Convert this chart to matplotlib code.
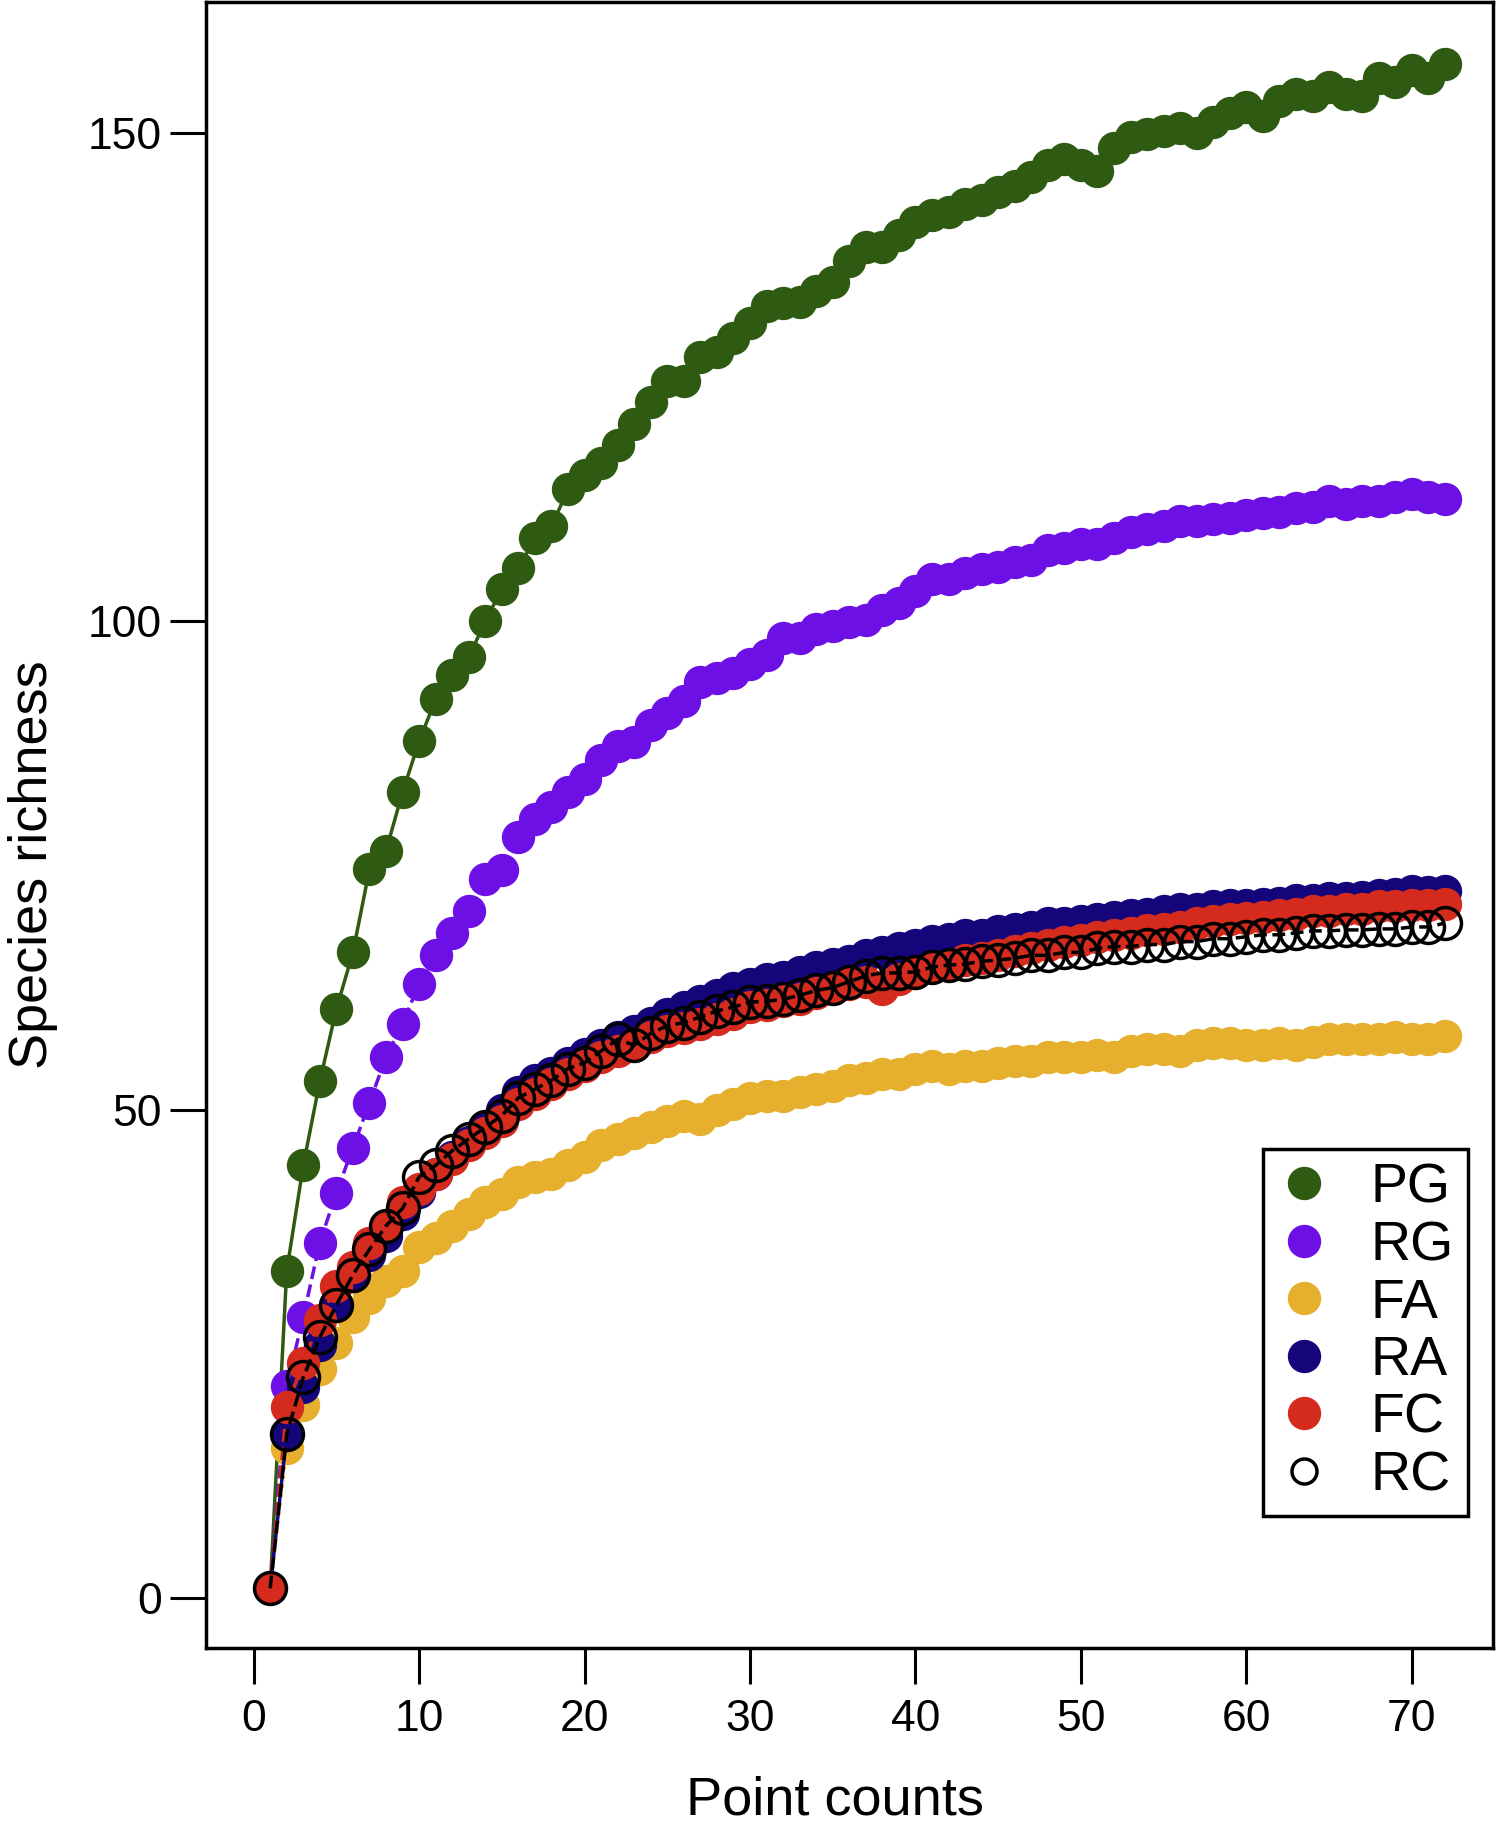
import matplotlib.pyplot as plt
import numpy as np

plt.rcParams['font.family'] = ['Liberation Sans', 'DejaVu Sans']

points = np.arange(1, 73)

pg = [1, 33.5, 44.3, 52.9, 60.3, 66.1, 74.6, 76.5, 82.5, 87.7, 92, 94.5, 96.3, 100,
      103.3, 105.4, 108.5, 109.7, 113.5, 115, 116.2, 118, 120.2, 122.4, 124.6, 124.6,
      127, 127.6, 129, 130.5, 132.3, 132.6, 132.7, 133.8, 134.7, 136.9, 138.3, 138.3,
      139.5, 140.9, 141.6, 141.9, 142.7, 143.1, 143.9, 144.5, 145.5, 146.7, 147.3,
      146.7, 146.1, 148.4, 149.6, 149.9, 150.2, 150.5, 150, 151.1, 152, 152.6, 151.7,
      153.2, 154, 153.8, 154.7, 154, 153.8, 155.6, 155.2, 156.4, 155.6, 157]
rg = [1, 21.7, 28.8, 36.4, 41.5, 46.1, 50.7, 55.4, 58.8, 62.9, 65.8, 68.1, 70.3, 73.6,
      74.5, 77.9, 79.8, 81, 82.5, 83.8, 85.8, 87.2, 87.6, 89.4, 90.6, 91.8, 93.8, 94.2,
      94.7, 95.6, 96.5, 98.3, 98.3, 99.2, 99.5, 99.9, 100.1, 101.1, 101.9, 103.1, 104.3,
      104.3, 104.9, 105.3, 105.5, 106.1, 106.3, 107.3, 107.5, 107.9, 107.9, 108.5, 109.1,
      109.4, 109.7, 110.3, 110.3, 110.5, 110.6, 110.9, 111.1, 111.2, 111.6, 111.7, 112.3,
      112, 112.3, 112.3, 112.7, 113, 112.7, 112.5]
fa = [1, 15.4, 19.8, 23.5, 26.1, 28.8, 30.7, 32.5, 33.5, 35.9, 36.9, 38.1, 39.3, 40.5,
      41.4, 42.6, 43.1, 43.4, 44.3, 45.2, 46.4, 47, 47.6, 48.2, 48.8, 49.4, 49, 50, 50.6,
      51.2, 51.4, 51.4, 51.8, 52.1, 52.4, 53, 53.2, 53.6, 53.6, 54.2, 54.5, 54.2, 54.5,
      54.5, 54.8, 55, 55, 55.4, 55.4, 55.4, 55.6, 55.4, 56, 56.2, 56.2, 56, 56.6, 56.8,
      56.8, 56.6, 56.6, 56.8, 56.6, 56.9, 57.2, 57.2, 57.2, 57.2, 57.4, 57.2, 57.2, 57.5]
ra = [1, 16.8, 21.6, 25.9, 30, 33, 35.1, 37.1, 39.3, 41.6, 43.4, 45.2, 46.7, 48.2, 50,
      51.8, 53, 53.8, 54.8, 55.7, 56.6, 57.4, 58.1, 58.9, 59.8, 60.5, 61.1, 61.7, 62.5,
      62.9, 63.4, 63.6, 64.1, 64.6, 64.9, 65.2, 65.8, 66.1, 66.5, 66.9, 67.3, 67.5, 67.9,
      67.9, 68.3, 68.5, 68.7, 69.1, 69.1, 69.3, 69.5, 69.7, 69.9, 70, 70.3, 70.5, 70.5,
      70.8, 70.9, 70.9, 71.1, 71.2, 71.5, 71.5, 71.7, 71.7, 71.8, 72, 72.1, 72.4, 72.3, 72.4]
fc = [1, 19.6, 24.1, 28.5, 31.9, 33.9, 36.3, 38.1, 40.5, 41.9, 43.4, 44.9, 46.4, 47.6,
      48.8, 50.6, 51.6, 52.6, 53.6, 54.5, 55.4, 56, 56.6, 57.4, 58.1, 58.4, 58.8, 59.3,
      59.8, 60.5, 60.7, 61.1, 61.3, 61.9, 62.5, 62.9, 63.1, 62.4, 63.4, 64, 64.6, 64.8,
      65.3, 65.5, 65.8, 66.2, 66.5, 66.9, 67.2, 67.4, 67.7, 67.9, 68.1, 68.4, 68.5, 68.7,
      69.1, 69.3, 69.5, 69.6, 69.7, 69.9, 70, 70.3, 70.3, 70.5, 70.5, 70.8, 70.8, 70.9,
      70.9, 71.1]
rc = [1, 16.8, 22.6, 26.7, 30, 33.1, 35.7, 38.1, 39.9, 43.1, 44.3, 45.8, 47, 48.2, 49.4,
      51.2, 52.1, 53, 54.2, 54.8, 56, 57.2, 56.6, 57.8, 58.6, 58.9, 59.5, 60.1, 60.5, 61,
      61.1, 61.3, 61.7, 62.2, 62.5, 63.1, 63.7, 64, 64, 64.1, 64.6, 64.8, 64.9, 65.2, 65.3,
      65.5, 65.8, 65.8, 66.1, 66.1, 66.5, 66.7, 66.7, 66.9, 66.9, 67.2, 67.2, 67.5, 67.5,
      67.7, 67.9, 67.9, 68.1, 68.3, 68.3, 68.4, 68.4, 68.5, 68.5, 68.7, 68.7, 69.1]

series = [("PG", pg, "#2e5a12", "-"),
          ("RG", rg, "#6d10e6", "--"),
          ("FA", fa, "#e6b02e", ":"),
          ("RA", ra, "#14067a", "-"),
          ("FC", fc, "#d52b1e", "--")]

fig = plt.figure(figsize=(14.96, 18.29), dpi=100)
ax = fig.add_axes([0.1377, 0.099, 0.860, 0.9])

for name, vals, col, ls in series:
    ax.plot(points, vals, color=col, linestyle=ls, linewidth=2.5,
            marker="o", markersize=23, markerfacecolor=col, markeredgecolor=col,
            label=name)
ax.plot(points, rc, color="k", linestyle="--", linewidth=2.5,
        marker="o", markersize=23, markerfacecolor="none", markeredgecolor="k",
        markeredgewidth=2.5, label="RC")

ax.set_xlim(-2.88, 74.88)
ax.set_ylim(-5.1, 163.4)
ax.set_xticks([0, 10, 20, 30, 40, 50, 60, 70])
ax.set_yticks([0, 50, 100, 150])
ax.tick_params(axis="both", direction="out", length=26, width=2.2, labelsize=32)
ax.tick_params(axis="x", pad=11)
ax.tick_params(axis="y", pad=6)
for sp in ax.spines.values():
    sp.set_linewidth(2.5)

ax.set_xlabel("Point counts", fontsize=39)
ax.set_ylabel("Species richness", fontsize=39)
ax.xaxis.set_label_coords(0.489, -0.0775)
ax.yaxis.set_label_coords(-0.115, 0.476)

leg = ax.legend(loc="lower right", bbox_to_anchor=(0.981, 0.080), fontsize=40,
                fancybox=False, framealpha=1, edgecolor="k", markerscale=1.0,
                handlelength=1.0, handletextpad=0.7, labelspacing=0.1,
                borderpad=0.25, borderaxespad=0)
leg.get_frame().set_linewidth(2.5)
for line in leg.get_lines():
    line.set_linestyle("none")
leg.get_lines()[-1].set_markersize(18)

fig.savefig("out.png", dpi=100)
